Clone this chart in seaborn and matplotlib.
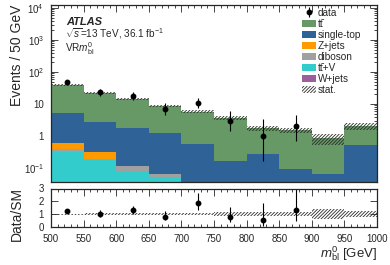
import numpy as np
import pandas as pd
import matplotlib
matplotlib.use("Agg")
import matplotlib.pyplot as plt
from matplotlib.patches import Patch
from matplotlib.ticker import FixedLocator, FixedFormatter, MultipleLocator, LogLocator, NullFormatter
import seaborn as sns

# binning (GeV)
edges = [500, 550, 600, 650, 700, 750, 800, 850, 900, 950, 1000]

# SM backgrounds per bin
ttbar = [33.8, 19.6, 12.2, 7.45, 5.24, 3.53, 1.48, 1.46, 0.78, 1.53]
single_top = [4.61, 2.43, 1.66, 1.17, 0.53, 0.15, 0.26, 0.083, 0.059, 0.50]
zjets = [0.20, 0.123, 0.0, 0.0, 0.002, 0.001, 0.001, 0.001, 0.001, 0.002]
diboson = [0.074, 0.013, 0.036, 0.012, 0.005, 0.003, 0.002, 0.002, 0.002, 0.003]
ttv = [0.316, 0.174, 0.082, 0.054, 0.02, 0.01, 0.005, 0.005, 0.003, 0.01]
wjets = [0, 0, 0, 0, 0, 0, 0, 0, 0, 0]
stat_rel = [0.05, 0.06, 0.07, 0.08, 0.10, 0.14, 0.16, 0.18, 0.40, 0.22]

# data (only first 8 bins have events)
data_counts = [48, 23, 18, 7, 11, 3, 1, 2]
data_err_lo = [6.9, 4.8, 4.2, 2.6, 3.3, 1.6, 0.83, 1.3]
data_err_hi = [8.0, 5.9, 5.3, 3.8, 4.4, 2.9, 2.3, 2.6]

proc_names = ["ttbar", "single-top", "Z+jets", "diboson", "ttV", "W+jets"]
proc_labels = ["tt\u0304", "single-top", "Z+jets", "diboson", "tt\u0304+V", "W+jets"]
proc_values = [ttbar, single_top, zjets, diboson, ttv, wjets]
proc_colors = ["#669966", "#2f6296", "#ff9900", "#a0a0a0", "#33cccc", "#9b5f9b"]

sns.set_style("ticks")
plt.rcParams["font.family"] = ["Liberation Sans", "DejaVu Sans"]
plt.rcParams["mathtext.fontset"] = "custom"
plt.rcParams["mathtext.rm"] = "Liberation Sans"
plt.rcParams["mathtext.it"] = "Liberation Sans:italic"
plt.rcParams["mathtext.bf"] = "Liberation Sans:bold"
plt.rcParams["hatch.linewidth"] = 0.6
plt.rcParams["axes.linewidth"] = 0.9

HATCH = "//////////"
HATCH_COL = "#2a2a2a"

edges_a = np.array(edges, dtype=float)
centers = 0.5 * (edges_a[:-1] + edges_a[1:])

rows = []
for name, vals in zip(proc_names, proc_values):
    for c, v in zip(centers, vals):
        rows.append({"x": c, "w": v, "process": name})
df = pd.DataFrame(rows)

fig = plt.figure(figsize=(3.9, 2.65), dpi=100)
ax = fig.add_axes([51 / 390, 1 - 182 / 265, 326 / 390, 177 / 265])
rax = fig.add_axes([51 / 390, 1 - 227 / 265, 326 / 390, 38.5 / 265])

sns.histplot(data=df, x="x", weights="w", hue="process", hue_order=proc_names,
             palette=dict(zip(proc_names, proc_colors)), multiple="stack",
             bins=edges, element="bars", linewidth=0, alpha=1, legend=False, ax=ax)
ax.set_yscale("log")

total = np.sum(np.array(proc_values), axis=0)
rel = np.array(stat_rel)
ax.stairs(total * (1 + rel), edges_a, baseline=total * (1 - rel), fill=True,
          facecolor="none", edgecolor=HATCH_COL, hatch=HATCH, linewidth=0)

nd = len(data_counts)
dc = np.array(data_counts, dtype=float)
data_h = ax.errorbar(centers[:nd], dc, yerr=[data_err_lo, data_err_hi], fmt="o",
                     color="black", ms=3.2, elinewidth=0.8, capsize=0)

ax.set_xlim(500, 1000)
ax.set_ylim(0.0365, 1.24e4)
ax.set_xlabel("")
ax.set_ylabel("Events / 50 GeV", fontsize=10, loc="top")
ax.yaxis.set_label_coords(-0.083, 1.0)
ax.yaxis.set_major_locator(FixedLocator([0.1, 1, 10, 100, 1000, 10000]))
ax.yaxis.set_major_formatter(FixedFormatter(["$10^{-1}$", "1", "10", "$10^{2}$", "$10^{3}$", "$10^{4}$"]))
ax.yaxis.set_minor_locator(LogLocator(base=10, subs=np.arange(2, 10), numticks=20))
ax.yaxis.set_minor_formatter(NullFormatter())
ax.xaxis.set_major_locator(MultipleLocator(50))
ax.xaxis.set_minor_locator(MultipleLocator(10))
ax.tick_params(axis="x", labelbottom=False)
for a in (ax, rax):
    a.tick_params(which="both", direction="in", top=True, right=True, labelsize=7, width=0.6)
    a.tick_params(which="major", length=5, pad=5)
    a.tick_params(which="minor", length=2.5)

# ratio panel
rax.stairs(1 + rel, edges_a, baseline=1 - rel, fill=True, facecolor="none",
           edgecolor=HATCH_COL, hatch=HATCH, linewidth=0)
ratio = dc / total[:nd]
rax.errorbar(centers[:nd], ratio,
             yerr=[np.array(data_err_lo) / total[:nd], np.array(data_err_hi) / total[:nd]],
             fmt="o", color="black", ms=3.2, elinewidth=0.8, capsize=0)
rax.set_xlim(500, 1000)
rax.set_ylim(0, 3)
rax.yaxis.set_major_locator(FixedLocator([0, 1, 2, 3]))
rax.xaxis.set_major_locator(MultipleLocator(50))
rax.xaxis.set_minor_locator(MultipleLocator(10))
rax.set_ylabel("Data/SM", fontsize=10)
rax.yaxis.set_label_coords(-0.083, 0.34)
rax.set_xlabel(r"$m^{0}_{\mathrm{bl}}$ [GeV]", fontsize=9.5, loc="right")
rax.xaxis.set_label_coords(1.0, -0.45)

# labels
fig.text(66 / 390, 1 - 22 / 265, "ATLAS", fontsize=8, fontweight="bold", style="italic", va="center")
fig.text(65 / 390, 1 - 34 / 265, r"$\sqrt{s}$=13 TeV, 36.1 fb$^{-1}$", fontsize=7.2, va="center")
fig.text(65 / 390, 1 - 49 / 265, r"VR$m^{0}_{\mathrm{bl}}$", fontsize=7.2, va="center")

handles = [data_h] + [Patch(facecolor=c, linewidth=0) for c in proc_colors] + \
          [Patch(facecolor="none", edgecolor=HATCH_COL, hatch=HATCH, linewidth=0)]
labels = ["data"] + proc_labels + ["stat."]
ax.legend(handles, labels, loc="upper left", bbox_to_anchor=(302 / 390, 1 - 8 / 265),
          bbox_transform=fig.transFigure, frameon=False, fontsize=7.2, borderpad=0,
          borderaxespad=0, handlelength=1.35, handleheight=0.8, handletextpad=0.25,
          labelspacing=0.1)

fig.savefig("out.png", dpi=100)
